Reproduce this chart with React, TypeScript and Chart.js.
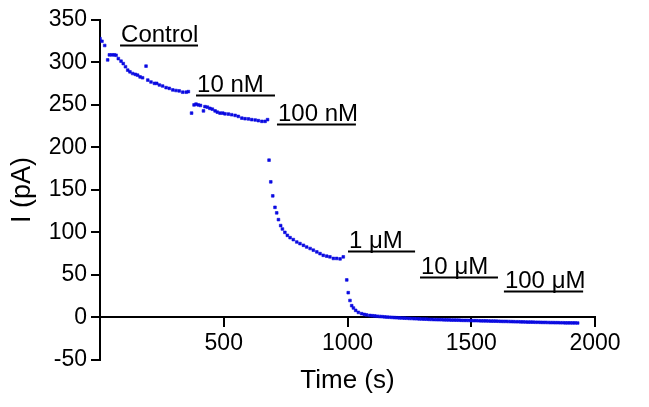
import React, { useEffect, useRef } from "react";
import { Chart, registerables } from "chart.js";

Chart.register(...registerables);

// ---- Data (time in s, current in pA) ----
const controlTime = [0, 8, 19, 31, 38, 48, 58, 65, 74, 85, 94, 103, 112, 121, 132, 143, 152, 162, 172, 186, 193, 206, 220, 229, 240, 253, 267, 280, 294, 307, 320, 334, 348, 357];
const controlCurrent = [328, 325, 320, 303, 309, 309, 309, 308.5, 304.6, 301.5, 298.7, 295, 291, 289, 287, 286, 285, 283, 282, 295.7, 279.3, 277, 275.4, 275.4, 273.5, 272.3, 270.4, 269.5, 267.7, 267, 266.5, 265, 265, 265.7];

const nM10Time = [370, 380, 388, 397, 406, 418, 424, 434, 444, 454, 465, 474, 485, 496, 505, 519, 532, 546, 559, 573, 586, 600, 613, 627, 640, 654, 667, 677];
const nM10Current = [240.4, 250, 251, 250, 249.4, 243, 248, 247.4, 246, 245, 243, 241.5, 240.4, 240.4, 239.6, 239.3, 238.5, 237.7, 236.5, 234.5, 233.8, 233.5, 232.7, 232.3, 231.5, 230.7, 230.7, 232.7];

const nM100Time = [683, 690, 698, 707, 714, 721, 730, 737, 747, 757, 768, 781, 795, 808, 822, 835, 849, 862, 876, 889, 902, 916, 929, 943, 956, 970, 983];
const nM100Current = [185, 159.5, 143, 129.5, 123, 115, 108, 104, 100, 96.5, 93.8, 91.5, 88.7, 86.8, 84.8, 82.8, 81, 79, 77, 75, 73, 72, 71.2, 69.3, 69.3, 68.8, 71.2];

const uM1Time = [997, 1003, 1010, 1017, 1024, 1033, 1044, 1057, 1068, 1077];
const uM1Current = [44, 29, 19.8, 13.7, 11, 8.2, 5.8, 4.3, 3.4, 2.8];

const tailTime = [1090, 1100, 1110, 1120, 1130, 1140, 1150, 1160, 1170, 1180, 1190, 1200, 1210, 1220, 1230, 1240, 1250, 1260, 1270, 1280, 1290, 1300, 1310, 1320, 1330, 1340, 1350, 1360, 1370, 1380, 1390, 1400, 1410, 1420, 1430, 1440, 1450, 1460, 1470, 1480, 1490, 1500, 1510, 1520, 1530, 1540, 1550, 1560, 1570, 1580, 1590, 1600, 1610, 1620, 1630, 1640, 1650, 1660, 1670, 1680, 1690, 1700, 1710, 1720, 1730, 1740, 1750, 1760, 1770, 1780, 1790, 1800, 1810, 1820, 1830, 1840, 1850, 1860, 1870, 1880, 1890, 1900, 1910, 1920, 1930];
const tailCurrent = [2.2, 1.9, 1.6, 1.3, 1.0, 0.8, 0.5, 0.3, 0.1, -0.1, -0.3, -0.5, -0.7, -0.8, -1.0, -1.1, -1.3, -1.4, -1.6, -1.7, -1.9, -2.0, -2.1, -2.2, -2.4, -2.5, -2.6, -2.7, -2.8, -2.8, -2.9, -3.0, -3.1, -3.2, -3.2, -3.3, -3.4, -3.5, -3.6, -3.6, -3.7, -3.8, -3.9, -3.9, -4.0, -4.1, -4.1, -4.2, -4.3, -4.4, -4.4, -4.5, -4.6, -4.7, -4.8, -4.8, -4.9, -5.0, -5.1, -5.2, -5.2, -5.3, -5.4, -5.5, -5.6, -5.6, -5.7, -5.8, -5.8, -5.9, -6.0, -6.0, -6.1, -6.2, -6.2, -6.3, -6.3, -6.4, -6.4, -6.5, -6.5, -6.5, -6.6, -6.6, -6.7];

const xTickValues = [0, 500, 1000, 1500, 2000];
const yTickValues = [-50, 0, 50, 100, 150, 200, 250, 300, 350];

// drug application bars
const barLabels = ["Control", "10 nM", "100 nM", "1 \u03bcM", "10 \u03bcM", "100 \u03bcM"];
const barStart = [81, 388, 715, 1002, 1293, 1632];
const barEnd = [396, 707, 1034, 1273, 1608, 1952];
const barLevel = [320, 262, 228, 78, 47, 31];

const FONT = '"Liberation Sans", Arial, Helvetica, sans-serif';

function toPoints(t: number[], v: number[]) {
  return t.map((x, i) => ({ x, y: v[i] }));
}

const barPlugin = {
  id: "drugBars",
  afterDatasetsDraw(chart: any) {
    const { ctx } = chart;
    const xs = chart.scales.x;
    const ys = chart.scales.y;
    ctx.save();
    ctx.font = `24px ${FONT}`;
    ctx.fillStyle = "#000";
    ctx.strokeStyle = "#000";
    ctx.lineWidth = 2;
    ctx.textAlign = "left";
    ctx.textBaseline = "alphabetic";
    barLabels.forEach((label, i) => {
      const x1 = xs.getPixelForValue(barStart[i]);
      const x2 = xs.getPixelForValue(barEnd[i]);
      const py = Math.round(ys.getPixelForValue(barLevel[i])) + 0.5;
      ctx.beginPath();
      ctx.moveTo(x1, py);
      ctx.lineTo(x2, py);
      ctx.stroke();
      ctx.fillText(label, x1 + 1, py - 4);
    });
    ctx.restore();
  },
};

export default function App() {
  const canvasRef = useRef<HTMLCanvasElement | null>(null);

  useEffect(() => {
    document.body.style.margin = "0";
    const canvas = canvasRef.current;
    if (!canvas) return;
    Chart.defaults.font.family = FONT;
    const data = [
      ...toPoints(controlTime, controlCurrent),
      ...toPoints(nM10Time, nM10Current),
      ...toPoints(nM100Time, nM100Current),
      ...toPoints(uM1Time, uM1Current),
      ...toPoints(tailTime, tailCurrent),
    ];
    const chart = new Chart(canvas, {
      type: "scatter",
      data: {
        datasets: [
          {
            data,
            xAxisID: "x",
            yAxisID: "y",
            pointStyle: "rect",
            pointRadius: 1.9,
            pointBorderWidth: 0.6,
            backgroundColor: "rgb(10,10,225)",
            borderColor: "rgb(10,10,225)",
            showLine: false,
          },
        ],
      },
      options: {
        responsive: false,
        animation: false,
        devicePixelRatio: 1,
        layout: { padding: { top: 20, right: 54, bottom: 9, left: 0 } },
        plugins: { legend: { display: false }, tooltip: { enabled: false }, title: { display: false } },
        scales: {
          x: {
            type: "linear",
            min: 0,
            max: 2000,
            position: { y: 0 } as any,
            afterBuildTicks: (s: any) => {
              s.ticks = xTickValues.map((value) => ({ value }));
            },
            ticks: {
              color: "#000",
              font: { size: 23, family: FONT },
              padding: 4,
              maxRotation: 0,
              autoSkip: false,
              callback: (v: any) => (v === 0 ? "" : String(v)),
            },
            grid: { display: true, drawOnChartArea: false, drawTicks: true, tickLength: 9, color: "#000", lineWidth: 2 },
            border: { display: true, color: "#000", width: 2 },
            title: { display: false },
          },
          xTitle: {
            type: "linear",
            axis: "x",
            position: "bottom",
            min: 0,
            max: 2000,
            ticks: { display: false },
            grid: { display: false, drawTicks: false },
            border: { display: false },
            title: {
              display: true,
              text: "Time (s)",
              color: "#000",
              font: { size: 26, family: FONT },
              padding: { top: 5, bottom: 2 },
            },
          } as any,
          y: {
            type: "linear",
            min: -50,
            max: 350,
            position: "left",
            afterBuildTicks: (s: any) => {
              s.ticks = yTickValues.map((value) => ({ value }));
            },
            afterFit: (s: any) => {
              s.width = 100;
            },
            ticks: { color: "#000", font: { size: 23, family: FONT }, padding: 4 },
            grid: { display: true, drawOnChartArea: false, drawTicks: true, tickLength: 9, color: "#000", lineWidth: 2 },
            border: { display: true, color: "#000", width: 2 },
            title: {
              display: true,
              text: "I (pA)",
              color: "#000",
              font: { size: 27, family: FONT },
              padding: { top: 6, bottom: 0 },
            },
          },
        },
      },
      plugins: [barPlugin],
    });
    return () => chart.destroy();
  }, []);

  return (
    <div style={{ width: 649, height: 407, background: "#fff" }}>
      <canvas ref={canvasRef} width={649} height={407} style={{ display: "block" }} />
    </div>
  );
}
